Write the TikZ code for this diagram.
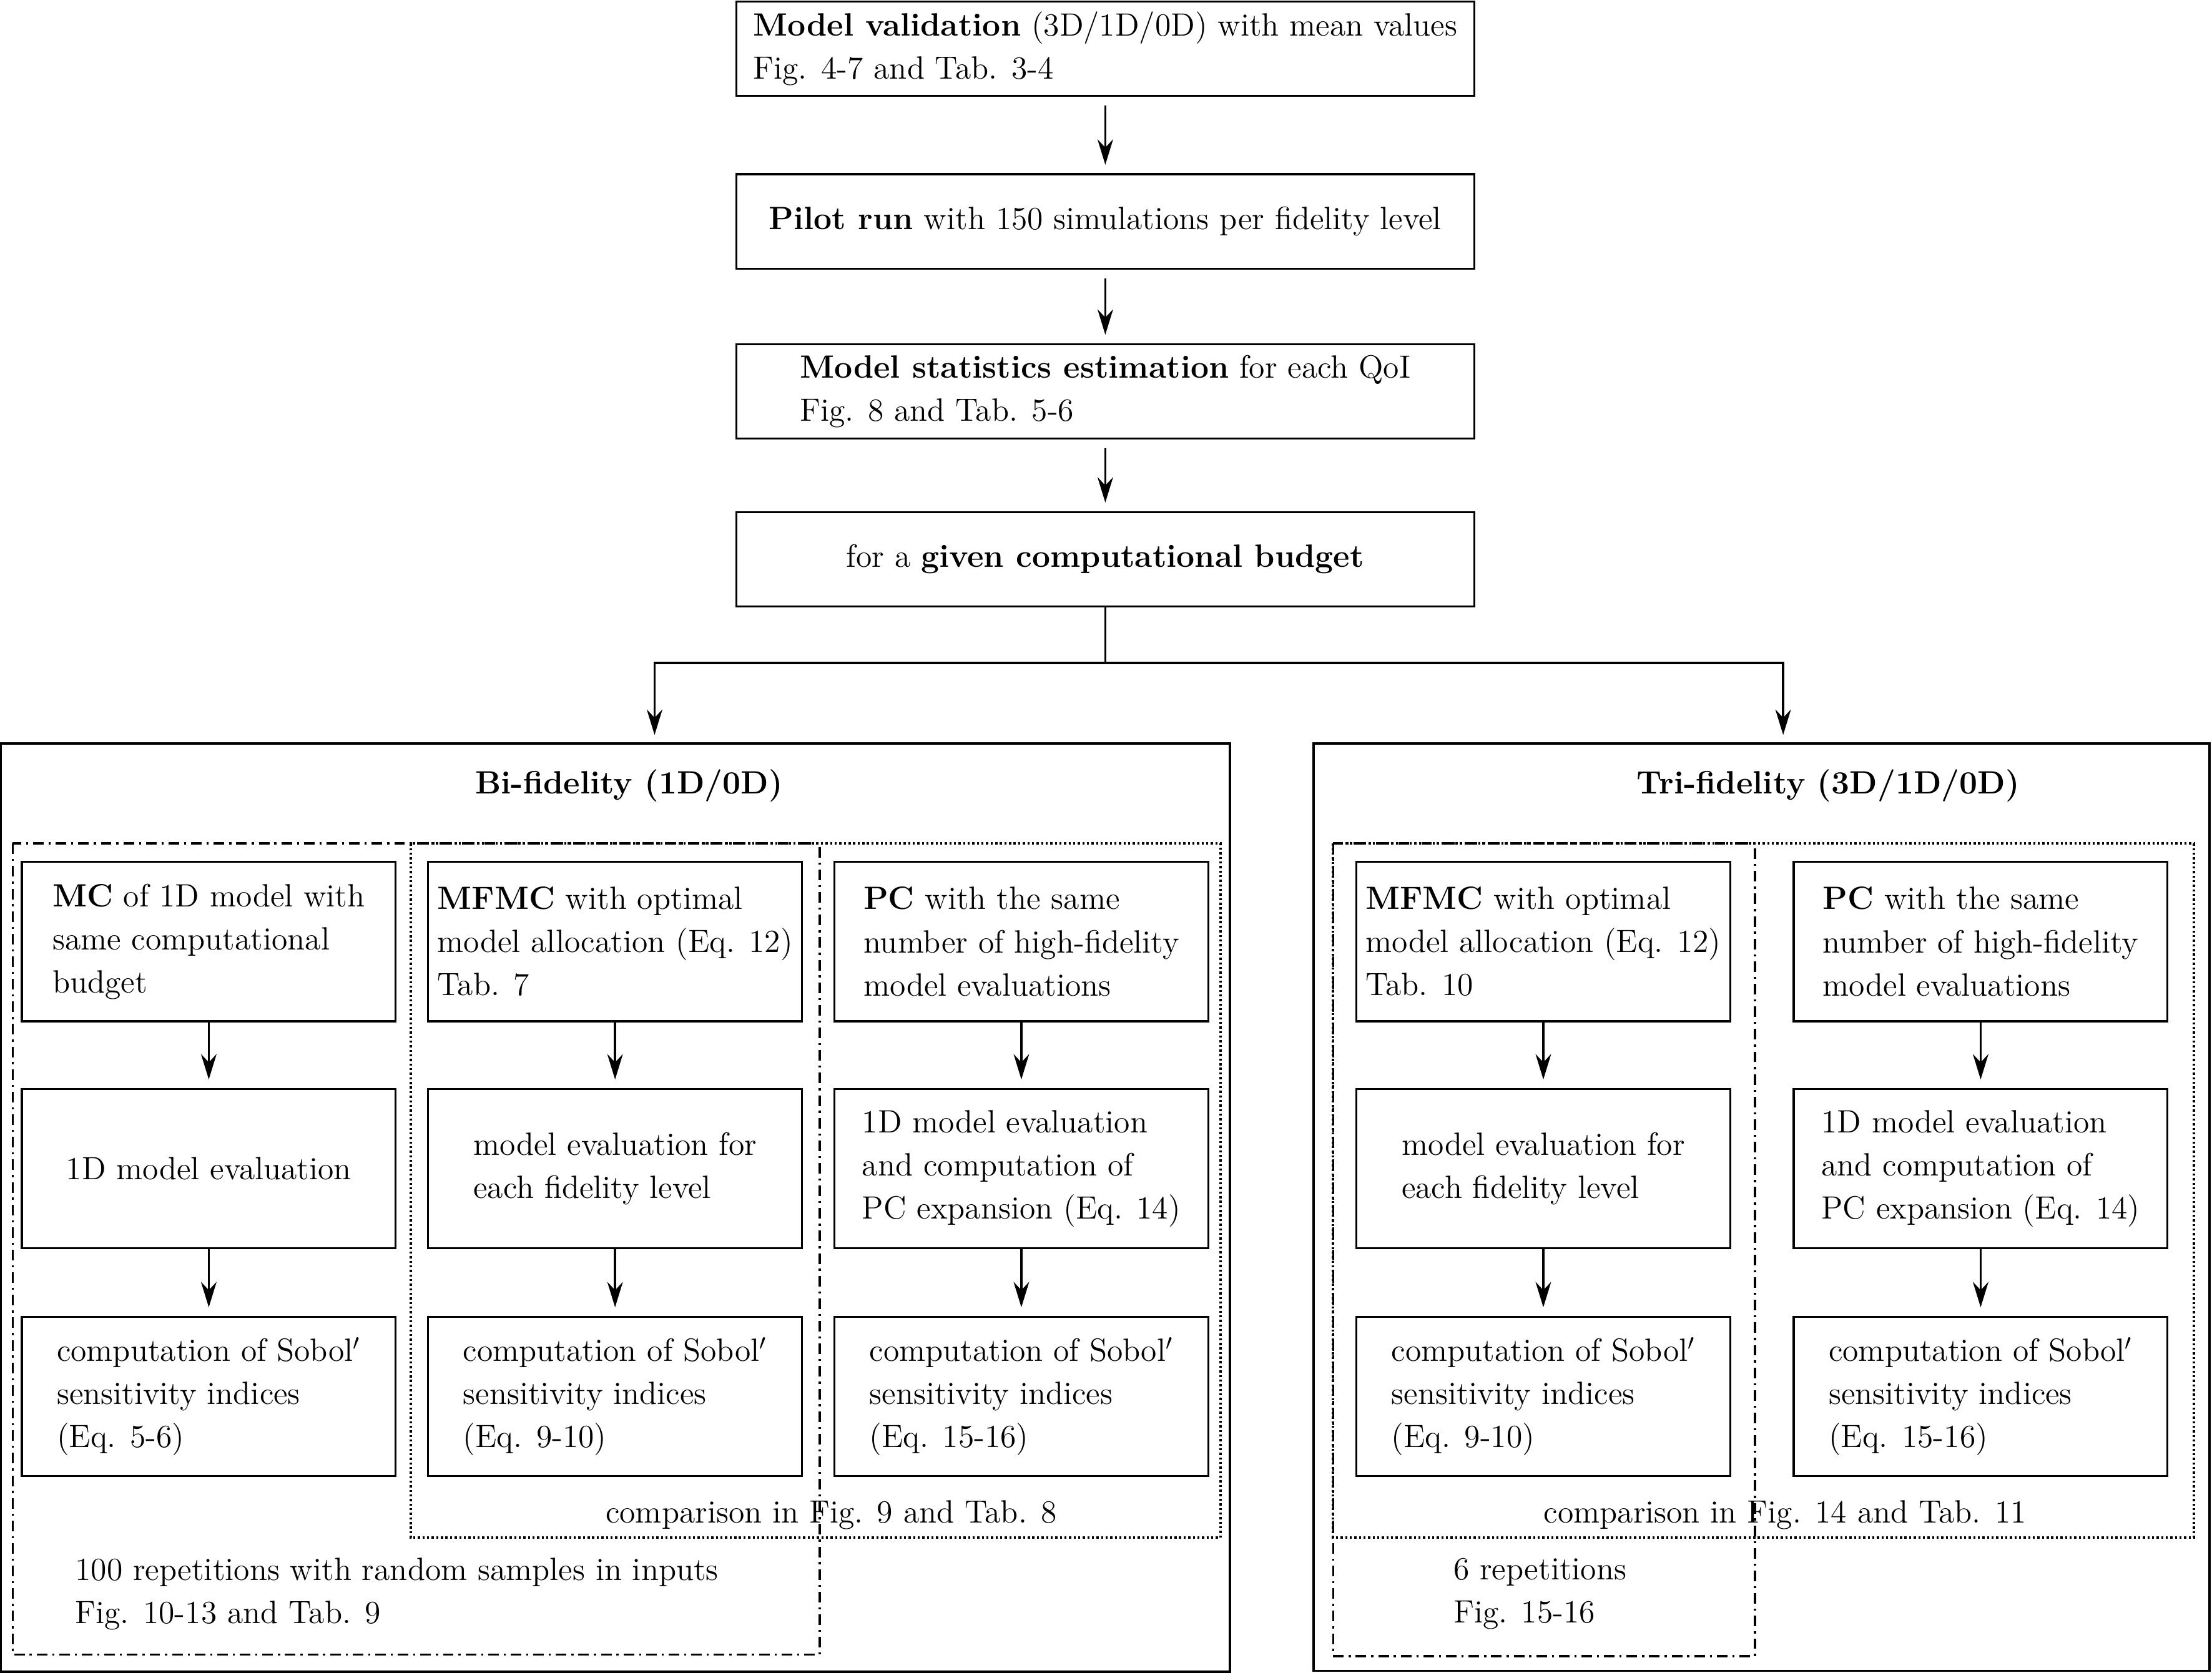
\documentclass[tikz,border=0pt]{standalone}
\usetikzlibrary{arrows.meta}
\begin{document}
\begin{tikzpicture}[x=0.2mm,y=-0.2mm,font=\fontsize{13}{17.4}\selectfont]
\tikzset{
    box/.style={draw, line width=0.8pt, minimum width=53mm, minimum height=22.6mm, align=left, inner sep=0pt},
    topbox/.style={draw, line width=0.8pt, minimum width=104.6mm, minimum height=13.4mm, align=left, inner sep=0pt},
    frame/.style={line width=1pt},
    repframe/.style={line width=0.9pt, dash pattern=on 1.5mm off 0.7mm on 0.3mm off 0.7mm},
    cmpframe/.style={line width=1pt, dash pattern=on 0.3mm off 0.35mm},
    arr/.style={line width=0.9pt, -{Stealth[length=3.6mm,width=2.2mm]}, shorten >=1.2mm},
    note/.style={anchor=west, align=left, inner sep=0pt}}

\useasboundingbox (0,0) rectangle (1568,1186);

\node[topbox] (valid) at (783.5,34.5) {\textbf{Model validation} (3D/1D/0D) with mean values\\Fig. 4-7 and Tab. 3-4};
\node[topbox] (pilot) at (783.5,157) {\textbf{Pilot run} with 150 simulations per fidelity level};
\node[topbox] (stats) at (783.5,277.5) {\textbf{Model statistics estimation} for each QoI\\Fig. 8 and Tab. 5-6};
\node[topbox] (budget) at (783.5,396.5) {for a \textbf{given computational budget}};

\draw[arr, shorten <=1.2mm] (valid) -- (pilot);
\draw[arr, shorten <=1.2mm] (pilot) -- (stats);
\draw[arr, shorten <=1.2mm] (stats) -- (budget);

\coordinate (split) at (783.5,470);
\coordinate (biin) at (464,527);
\coordinate (triin) at (1264,527);
\draw[line width=0.9pt] (budget) -- (split);
\draw[arr] (split) -| (biin);
\draw[arr] (split) -| (triin);

\draw[frame] (0.5,527) rectangle (872,1185);
\draw[frame] (931,527) rectangle (1566,1184.5);
\node (bititle) at (446,557) {\textbf{Bi-fidelity (1D/0D)}};
\node (trititle) at (1296,557) {\textbf{Tri-fidelity (3D/1D/0D)}};

\draw[repframe] (9,598) rectangle (581,1173);
\draw[cmpframe] (291,598) rectangle (865,1090);
\draw[repframe] (945,598) rectangle (1244,1174);
\draw[cmpframe] (945,598) rectangle (1555,1090);

\node[box] (mc) at (148,667.5) {\textbf{MC} of 1D model with\\same computational\\budget};
\node[box] (evalmc) at (148,828.5) {1D model evaluation};
\node[box] (sobmc) at (148,990) {computation of Sobol$'$\\sensitivity indices\\(Eq. 5-6)};

\node[box] (mfmc) at (436,667.5) {\textbf{MFMC} with optimal\\model allocation (Eq. 12)\\Tab. 7};
\node[box] (evalmf) at (436,828.5) {model evaluation for\\each fidelity level};
\node[box] (sobmf) at (436,990) {computation of Sobol$'$\\sensitivity indices\\(Eq. 9-10)};

\node[box] (pc) at (724,667.5) {\textbf{PC} with the same\\number of high-fidelity\\model evaluations};
\node[box] (evalpc) at (724,828.5) {1D model evaluation\\and computation of\\PC expansion (Eq. 14)};
\node[box] (sobpc) at (724,990) {computation of Sobol$'$\\sensitivity indices\\(Eq. 15-16)};

\node[box] (mfmcT) at (1094,667.5) {\textbf{MFMC} with optimal\\model allocation (Eq. 12)\\Tab. 10};
\node[box] (evalmfT) at (1094,828.5) {model evaluation for\\each fidelity level};
\node[box] (sobmfT) at (1094,990) {computation of Sobol$'$\\sensitivity indices\\(Eq. 9-10)};

\node[box] (pcT) at (1404,667.5) {\textbf{PC} with the same\\number of high-fidelity\\model evaluations};
\node[box] (evalpcT) at (1404,828.5) {1D model evaluation\\and computation of\\PC expansion (Eq. 14)};
\node[box] (sobpcT) at (1404,990) {computation of Sobol$'$\\sensitivity indices\\(Eq. 15-16)};

\draw[arr] (mc) -- (evalmc);
\draw[arr] (evalmc) -- (sobmc);
\draw[arr] (mfmc) -- (evalmf);
\draw[arr] (evalmf) -- (sobmf);
\draw[arr] (pc) -- (evalpc);
\draw[arr] (evalpc) -- (sobpc);
\draw[arr] (mfmcT) -- (evalmfT);
\draw[arr] (evalmfT) -- (sobmfT);
\draw[arr] (pcT) -- (evalpcT);
\draw[arr] (evalpcT) -- (sobpcT);

\node[note] (cmpbi) at (429,1074) {comparison in Fig. 9 and Tab. 8};
\node[note] (cmptri) at (1094,1074) {comparison in Fig. 14 and Tab. 11};
\node[note] (repbi) at (53,1130) {100 repetitions with random samples in inputs\\Fig. 10-13 and Tab. 9};
\node[note] (reptri) at (1030,1130) {6 repetitions\\Fig. 15-16};

\end{tikzpicture}
\end{document}
